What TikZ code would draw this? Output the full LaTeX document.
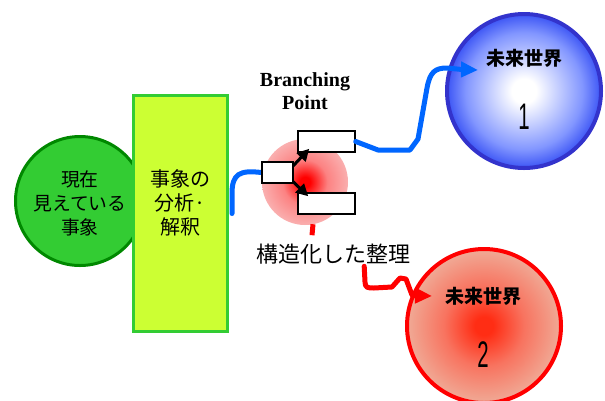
\documentclass[tikz,border=0pt]{standalone}
\usepackage{fontspec}
\setmainfont{Liberation Serif}
\newfontfamily\jp{Noto Sans CJK JP}
\newfontfamily\numfont{Liberation Sans}
\usetikzlibrary{arrows.meta,calc}
\definecolor{gdark}{RGB}{0,136,0}
\definecolor{gfill}{RGB}{51,204,51}
\definecolor{rfill}{RGB}{204,255,51}
\definecolor{rborder}{RGB}{51,204,51}
\definecolor{bline}{RGB}{0,102,255}
\definecolor{bborder}{RGB}{51,51,204}
\definecolor{bmid}{RGB}{130,150,255}
\definecolor{bedge}{RGB}{60,85,245}
\definecolor{rline}{RGB}{255,0,0}
\definecolor{bpin}{RGB}{255,0,0}
\definecolor{bpmid}{RGB}{252,130,130}
\definecolor{bpout}{RGB}{250,175,175}
\definecolor{r2in}{RGB}{255,45,20}
\definecolor{r2mid}{RGB}{248,115,95}
\definecolor{r2out}{RGB}{240,170,150}
\pgfdeclareradialshading{blueball}{\pgfpoint{0bp}{0bp}}{color(0bp)=(white); color(4bp)=(white); color(19bp)=(bmid); color(25bp)=(bedge); color(50bp)=(bedge)}
\pgfdeclareradialshading{bpball}{\pgfpoint{0bp}{0bp}}{color(0bp)=(bpin); color(3bp)=(bpin); color(13bp)=(bpmid); color(25bp)=(bpout); color(50bp)=(bpout)}
\pgfdeclareradialshading{redball}{\pgfpoint{0bp}{0bp}}{color(0bp)=(r2in); color(3bp)=(r2in); color(13bp)=(r2mid); color(25bp)=(r2out); color(50bp)=(r2out)}
\tikzset{
  jptext/.style={font=\jp\fontsize{18.8}{24}\selectfont, align=center, inner sep=0},
  worldtitle/.style={font=\jp\bfseries\fontsize{19}{22}\selectfont, inner sep=0},
  numtext/.style={inner sep=0, font=\numfont\fontsize{37}{40}\selectfont, xscale=0.55, transform shape},
  wbox/.style={draw=black, fill=white, line width=1.5pt, inner sep=0},
  blueconn/.style={draw=bline, line width=5pt, line join=round, line cap=round},
  redconn/.style={draw=rline, line width=5pt, line join=round, line cap=round},
  brarrow/.style={draw=black, line width=3pt, -{Triangle[length=12pt,width=12pt]}},
}
\begin{document}
\begin{tikzpicture}[x=1pt,y=-1pt]
\useasboundingbox (0,0) rectangle (605,400);
% current events circle and analysis box
\node[circle, draw=gdark, fill=gfill, line width=3pt, minimum size=129pt, inner sep=0] (now) at (80,201) {};
\node[jptext] (nowtxt) at (80,203) {現在\\見えている\\事象};
\node[draw=rborder, fill=rfill, line width=3pt, minimum width=94pt, minimum height=236pt, inner sep=0] (rect) at (180.5,213.5) {};
\node[jptext, font=\jp\fontsize{20}{24}\selectfont] (recttxt) at (180,203) {事象の\\分析·\\解釈};
% branching point
\node[circle, shade, shading=bpball, minimum size=86pt, inner sep=0] (bp) at (305,182) {};
\node[font=\bfseries\fontsize{20}{23}\selectfont, align=center, inner sep=0] (bptxt) at (305,91) {Branching\\Point};
% future worlds
\node[circle, shade, shading=blueball, draw=bborder, line width=4pt, minimum size=154pt, inner sep=0] (w1) at (524,91) {};
\node[worldtitle] (w1t) at (524,58) {未来世界};
\node[numtext] (w1n) at (524,117) {1};
\node[circle, shade, shading=redball, draw=rline, line width=4pt, minimum size=154pt, inner sep=0] (w2) at (484,326) {};
\node[worldtitle] (w2t) at (483,296) {未来世界};
\node[numtext] (w2n) at (483,355) {2};
% label
\node[font=\jp\fontsize{22}{24}\selectfont, inner sep=0] (lbl) at (333,254) {構造化した整理};
% connectors (blue)
\coordinate (b1s) at ($(rect.east)+(3,0)$);
\node[wbox, minimum width=31pt, minimum height=21pt] (mid) at (277.5,172.5) {};
\draw[blueconn] (b1s) -- ++(0,-20) .. controls ++(0,-20) and (240,170) .. (mid.west);
\node[wbox, minimum width=57pt, minimum height=21pt] (top) at (326.5,141.5) {};
\node[wbox, minimum width=57pt, minimum height=21pt] (bot) at (326.5,203.5) {};
\coordinate (w1tip) at ($(w1.west)+(33,-21)$);
\draw[blueconn] (top.east) -- (378,150) -- (410,150) -- (418,139) -- (427,88) .. controls (430,72) and (435,68) .. (447,68) -- (462,69.5);
\draw[draw=bline, line width=5pt, -{Triangle[length=17pt,width=15pt]}] (461,69.5) -- (w1tip);
% branching arrows
\draw[brarrow] ($(mid.east)+(-4,-3)$) -- ($(top.south west)+(12,-4)$);
\draw[brarrow] ($(mid.east)+(-4,6)$) -- ($(bot.north west)+(11,4)$);
\node[wbox, minimum width=31pt, minimum height=21pt] at (mid) {};
% connectors (red)
\draw[redconn, line cap=butt] ($(bp.south)+(8,-1)$) -- ($(bp.south)+(7,10)$);
\coordinate (r2s) at ($(lbl.south east)+(-46,2)$);
\coordinate (w2tip) at (432,296);
\draw[redconn] (r2s) -- (365,282) .. controls (365,288) and (368,288) .. (374,288) -- (392,287) -- (400,278) -- (406,279) -- (412,295);
\draw[draw=rline, line width=5pt, -{Triangle[length=17pt,width=15pt]}] (412,295.5) -- (w2tip);
\end{tikzpicture}
\end{document}
